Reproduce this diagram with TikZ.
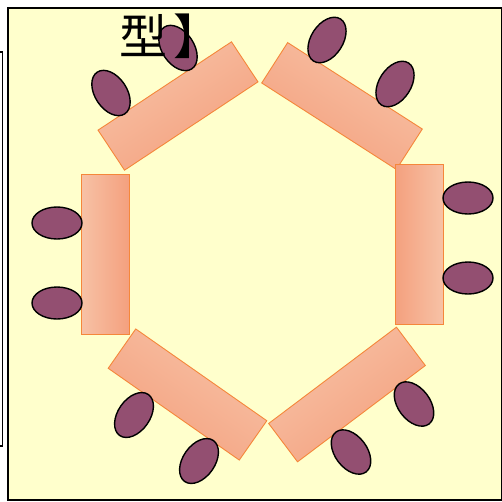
\documentclass[tikz,border=0pt]{standalone}
\usepackage{fontspec}
\newfontfamily\cjk{Noto Sans CJK SC}
\usepackage{tikz}
\usetikzlibrary{positioning,shapes.geometric}
\usepackage{xcolor}
\definecolor{roomyellow}{HTML}{FFFFCC}
\definecolor{tablelight}{HTML}{F7C2A6}
\definecolor{tabledark}{HTML}{F4A07E}
\definecolor{tableedge}{HTML}{F5873A}
\definecolor{seatfill}{HTML}{934F71}

\begin{document}
\begin{tikzpicture}[
    x=1pt, y=-1pt,
    table/.style={draw=tableedge, line width=0.9pt, top color=tablelight, bottom color=tabledark,
                  shading angle=#1, rotate=#1,
                  minimum width=160pt, minimum height=48pt, inner sep=0pt},
    seat/.style={ellipse, draw=black, line width=1.4pt, fill=seatfill, rotate=#1,
                 minimum width=32pt, minimum height=50pt, inner sep=0pt},
    title/.style={font=\cjk\fontsize{48pt}{48pt}\selectfont, inner sep=0pt, anchor=base west}
]
\clip (0,0) rectangle (502,501);
\draw[line width=1.2pt] (-10,52) rectangle (2.2,446);
\draw[line width=1.4pt, fill=roomyellow] (8,8) rectangle (501.5,500);

\node[table=33.5] (tl) at (178,106) {};
\node[table=-32.7] (tr) at (342,106) {};
\node[table=90] (lt) at (105,254.5) {};
\node[table=-90] (rt) at (419,244.5) {};
\node[table=-35] (bl) at (187.5,394.5) {};
\node[table=37] (br) at (347,394.5) {};

\node[seat=33.5] (tl1) at (111,93) {};
\node[seat=33.5] (tl2) at (178,48) {};
\node[seat=-32.7] (tr1) at (327,40) {};
\node[seat=-32.7] (tr2) at (395,84) {};
\node[seat=90] (lt1) at (57,223) {};
\node[seat=90] (lt2) at (57,303) {};
\node[seat=-90] (rt1) at (468,198) {};
\node[seat=-90] (rt2) at (468,278) {};
\node[seat=-35] (bl1) at (134,415) {};
\node[seat=-35] (bl2) at (199,461) {};
\node[seat=37] (br1) at (414,404) {};
\node[seat=37] (br2) at (351,452) {};

\node[title] (head) at (119,54) {型\hspace{6pt}】};
\end{tikzpicture}
\end{document}
